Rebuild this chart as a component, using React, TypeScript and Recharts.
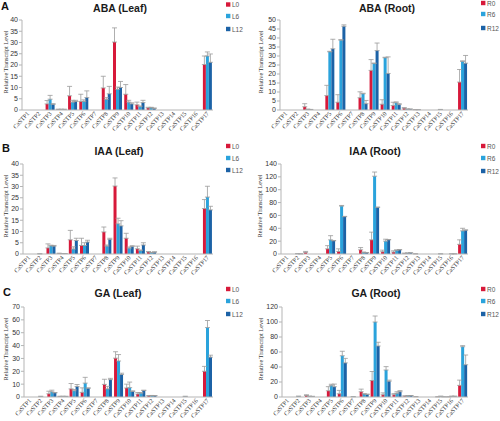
import React from 'react';
import { BarChart, Bar, XAxis, YAxis, ErrorBar } from 'recharts';

const categories = ['CaSTP1','CaSTP2','CaSTP3','CaSTP4','CaSTP5','CaSTP6','CaSTP7','CaSTP8','CaSTP9','CaSTP10','CaSTP11','CaSTP12','CaSTP13','CaSTP14','CaSTP15','CaSTP16','CaSTP17'];
const leafSeries = ['L0', 'L6', 'L12'];
const rootSeries = ['R0', 'R6', 'R12'];

// ABA (Leaf)
const abaLeafL0 = [0,0,2.7,0.3,6.3,3.8,0,9.8,30.2,7.0,2.3,0.9,0,0,0,0,20.2];
const abaLeafL6 = [0,0,4.8,0.3,3.5,3.8,0,4.7,9.2,3.5,1.5,1.0,0,0,0,0,24.0];
const abaLeafL12 = [0,0,2.5,0.3,3.8,5.5,0,7.2,10.0,2.7,3.3,0.7,0,0,0,0,21.2];
const abaLeafL0Err = [0,0,1.5,0,4.2,3.2,0,5.2,6.3,4.3,1.2,0.3,0,0,0,0,3.8];
const abaLeafL6Err = [0,0,1.7,0,0.8,0.7,0,0.8,1.0,0.8,0.3,0.2,0,0,0,0,1.8];
const abaLeafL12Err = [0,0,0.3,0,0.5,3.0,0,3.3,2.7,0.5,1.0,0.2,0,0,0,0,3.7];
const abaLeafTicks = [0,5,10,15,20,25,30,35,40];

// ABA (Root)
const abaRootR0 = [0,0,1.8,0,8.0,4.3,0,6.8,22.0,3.2,2.5,1.0,0.2,0,0,0,15.5];
const abaRootR6 = [0,0,0.4,0,32.3,38.8,0,9.0,25.8,29.0,4.0,0.5,0.2,0,0.3,0,27.0];
const abaRootR12 = [0,0,0.3,0,34.0,46.5,0,3.5,33.0,20.3,3.0,0.5,0,0,0,0,26.0];
const abaRootR0Err = [0,0,1.7,0,5.7,4.2,0,3.3,6.0,2.5,1.8,0.3,0,0,0,0,7.0];
const abaRootR6Err = [0,0,0,0,0.3,0.3,0,0.3,0.3,0.3,0.5,0,0,0,0,0,0.3];
const abaRootR12Err = [0,0,0,0,5.3,0.8,0,1.8,4.2,9.2,0.5,0,0,0,0,0,4.3];
const abaRootTicks = [0,5,10,15,20,25,30,35,40,45,50];

// IAA (Leaf)
const iaaLeafL0 = [0,0,2.7,0.3,6.3,3.8,0,9.8,30.2,7.0,2.3,0.9,0,0,0,0,20.2];
const iaaLeafL6 = [0,0.1,3.6,0.2,2.2,3.8,0,3.5,13.4,2.6,1.5,0.6,0,0,0,0,25.3];
const iaaLeafL12 = [0,0,3.5,0.2,6.0,5.3,0,6.5,12.5,3.3,4.0,0.8,0,0,0,0,19.6];
const iaaLeafL0Err = [0,0,1.8,0,4.2,3.2,0,2.2,3.6,2.2,1.2,0.2,0,0,0,0,4.0];
const iaaLeafL6Err = [0,0,0.3,0,1.0,1.2,0,0.5,2.5,0.5,0.3,0.1,0,0,0,0,4.8];
const iaaLeafL12Err = [0,0,0.3,0,1.0,0.8,0,0.5,2.3,0.4,1.0,0.2,0,0,0,0,1.6];
const iaaLeafTicks = [0,5,10,15,20,25,30,35,40];

// IAA (Root)
const iaaRootR0 = [0,0,2.5,0,8.0,4.0,0,6.5,22.0,3.5,3.0,1.0,0.3,0,0,0,15.0];
const iaaRootR6 = [0,0.5,0,0,22.0,74.5,0,2.5,121.0,20.0,6.0,1.5,0,0,0.3,0.3,36.0];
const iaaRootR12 = [0,0.3,0,0,20.5,58.0,0,2.0,72.5,22.0,6.5,1.8,0,0,0,0.3,37.0];
const iaaRootR0Err = [0,0,1.5,0,5.0,4.0,0,3.5,12.0,2.5,2.0,0.3,0,0,0,0,7.0];
const iaaRootR6Err = [0,0,0,0,6.5,1.0,0,0.5,6.5,3.0,0.3,0,0,0,0,0,4.0];
const iaaRootR12Err = [0,0,0,0,0.5,0.5,0,0.2,0.5,0.5,0.3,0,0,0,0,0,0.5];
const iaaRootTicks = [0,20,40,60,80,100,120,140];

// GA (Leaf)
const gaLeafL0 = [0,0,2.5,0.5,6.3,3.6,0,9.8,30.2,7.0,2.3,0.9,0,0,0,0,20.0];
const gaLeafL6 = [0,0.5,4.0,0.5,4.8,10.8,0,6.3,28.0,7.3,3.0,1.0,0,0,0.5,0,54.0];
const gaLeafL12 = [0,0,3.2,0.5,8.2,6.8,0,13.5,17.5,4.3,5.0,1.0,0,0,0,0,31.0];
const gaLeafL0Err = [0,0,2.0,0,4.2,3.5,0,4.0,5.0,3.0,1.2,0.2,0,0,0,0,3.8];
const gaLeafL6Err = [0,0,1.3,0,1.0,4.5,0,2.0,5.0,4.3,0.5,0.2,0,0,0,0,5.5];
const gaLeafL12Err = [0,0,0.3,0,1.5,0.3,0,1.0,1.0,0.5,0.3,0.1,0,0,0,0,1.5];
const gaLeafTicks = [0,10,20,30,40,50,60,70];

// GA (Root)
const gaRootR0 = [0,0,2.0,0,8.3,4.3,0,7.0,22.0,3.0,3.0,1.2,0.5,0,0.3,0.3,15.5];
const gaRootR6 = [0,1.0,1.0,0,15.5,55.0,0.5,4.0,100.0,36.0,5.0,1.5,0,0,1.0,1.0,67.0];
const gaRootR12 = [0,0,0.8,0,13.7,45.5,0,3.5,68.0,21.0,7.0,1.8,0,0,0.3,1.0,43.0];
const gaRootR0Err = [0,0,1.0,0,5.5,4.5,0,3.5,12.0,2.5,1.5,0.3,0,0,0,0,7.0];
const gaRootR6Err = [0,0,0,0,1.5,6.0,0,0.3,8.0,4.5,2.0,0.2,0,0,0,0,1.5];
const gaRootR12Err = [0,0,0,0,3.5,6.0,0,0.3,5.0,1.5,1.5,0.2,0,0,0,0,13.0];
const gaRootTicks = [0,20,40,60,80,100,120];

const COLORS = ['#d7193a', '#2aa3dc', '#1c62a6'];

function buildRows(vals: number[][], errs: number[][]) {
  return categories.map((c, i) => ({
    name: c,
    v0: vals[0][i], v1: vals[1][i], v2: vals[2][i],
    e0: [0, errs[0][i]], e1: [0, errs[1][i]], e2: [0, errs[2][i]],
  }));
}

const XTick = (props: any) => {
  const { x, y, payload } = props;
  return (
    <g transform={`translate(${x + 0.5},${y + 2.5}) rotate(-48)`}>
      <text x={0} y={0} dy="0.32em" textAnchor="end" fontSize={6.2} fontFamily="'Liberation Serif', serif" fill="#333">
        {payload.value}
      </text>
    </g>
  );
};

type PanelProps = {
  left: number; top: number; w: number; h: number;
  plot: { l: number; r: number; t: number; b: number };
  vals: number[][]; errs: number[][]; ticks: number[];
  title: string; titleX: number; titleY: number;
  letter?: string; letterX?: number; letterY?: number;
  series: string[]; legendX: number; legendYs: number[];
  ylabX: number;
};

function Panel(p: PanelProps) {
  const data = buildRows(p.vals, p.errs);
  const max = p.ticks[p.ticks.length - 1];
  const ylabY = (p.plot.t + p.plot.b) / 2 - 3;
  return (
    <div style={{ position: 'absolute', left: p.left, top: p.top, width: p.w, height: p.h }}>
      <BarChart
        width={p.w}
        height={p.h}
        data={data}
        margin={{ top: p.plot.t, right: p.w - p.plot.r, bottom: 0, left: 0 }}
        barCategoryGap="10%"
        barGap={0}
      >
        <XAxis
          dataKey="name"
          interval={0}
          tick={<XTick />}
          tickLine={false}
          tickSize={0}
          tickMargin={0}
          axisLine={{ stroke: '#b5b5b5' }}
          height={p.h - p.plot.b}
        />
        <YAxis
          width={p.plot.l}
          domain={[0, max]}
          ticks={p.ticks}
          interval={0}
          tickSize={3}
          tickMargin={1}
          tickLine={{ stroke: '#b5b5b5' }}
          axisLine={{ stroke: '#b5b5b5' }}
          tick={{ fontSize: 7, fill: '#333', fontFamily: "'Liberation Sans', Arial, sans-serif" }}
        />
        {[0, 1, 2].map((k) => (
          <Bar key={k} dataKey={`v${k}`} fill={COLORS[k]} isAnimationActive={false}>
            <ErrorBar dataKey={`e${k}`} width={2.5} stroke="#9a9a9a" strokeWidth={0.8} direction="y" isAnimationActive={false} />
          </Bar>
        ))}
      </BarChart>
      <svg width={p.w} height={p.h} style={{ position: 'absolute', left: 0, top: 0, pointerEvents: 'none' }}>
        <text x={p.titleX} y={p.titleY} textAnchor="middle" fontSize={10.5} fontWeight="bold" fontFamily="'Liberation Sans', Arial, sans-serif" fill="#1a1a1a">
          {p.title}
        </text>
        {p.letter ? (
          <text x={p.letterX} y={p.letterY} fontSize={11} fontWeight="bold" fontFamily="'Liberation Sans', Arial, sans-serif" fill="#111">
            {p.letter}
          </text>
        ) : null}
        <text
          x={p.ylabX}
          y={ylabY}
          transform={`rotate(-90 ${p.ylabX} ${ylabY})`}
          textAnchor="middle"
          dominantBaseline="central"
          fontSize={6.2}
          fontFamily="'Liberation Serif', serif"
          fill="#333"
        >
          Relative Transcript Level
        </text>
        {p.series.map((s, k) => (
          <g key={s}>
            <rect x={p.legendX} y={p.legendYs[k] - 2.2} width={4.4} height={4.4} fill={COLORS[k]} />
            <text x={p.legendX + 6} y={p.legendYs[k]} dominantBaseline="central" fontSize={6.5} fontFamily="'Liberation Sans', Arial, sans-serif" fill="#555">
              {s}
            </text>
          </g>
        ))}
      </svg>
    </div>
  );
}

export default function App() {
  return (
    <div style={{ position: 'absolute', left: 0, top: 0, width: 500, height: 421, background: '#fff', overflow: 'hidden' }}>
      <Panel left={0} top={0} w={250} h={140} plot={{ l: 22, r: 213, t: 20, b: 110 }}
        vals={[abaLeafL0, abaLeafL6, abaLeafL12]} errs={[abaLeafL0Err, abaLeafL6Err, abaLeafL12Err]} ticks={abaLeafTicks}
        title="ABA (Leaf)" titleX={120} titleY={12} letter="A" letterX={1} letterY={10}
        series={leafSeries} legendX={226} legendYs={[4.5, 16, 29]} ylabX={5} />
      <Panel left={250} top={0} w={250} h={140} plot={{ l: 30, r: 218, t: 20, b: 110 }}
        vals={[abaRootR0, abaRootR6, abaRootR12]} errs={[abaRootR0Err, abaRootR6Err, abaRootR12Err]} ticks={abaRootTicks}
        title="ABA (Root)" titleX={137} titleY={12}
        series={rootSeries} legendX={231} legendYs={[3, 14, 28]} ylabX={10} />
      <Panel left={0} top={140} w={250} h={140} plot={{ l: 23, r: 213, t: 24, b: 114 }}
        vals={[iaaLeafL0, iaaLeafL6, iaaLeafL12]} errs={[iaaLeafL0Err, iaaLeafL6Err, iaaLeafL12Err]} ticks={iaaLeafTicks}
        title="IAA (Leaf)" titleX={119} titleY={15} letter="B" letterX={2} letterY={12}
        series={leafSeries} legendX={226} legendYs={[6, 18, 30]} ylabX={5} />
      <Panel left={250} top={140} w={250} h={140} plot={{ l: 31, r: 218, t: 24, b: 114 }}
        vals={[iaaRootR0, iaaRootR6, iaaRootR12]} errs={[iaaRootR0Err, iaaRootR6Err, iaaRootR12Err]} ticks={iaaRootTicks}
        title="IAA (Root)" titleX={125} titleY={15}
        series={rootSeries} legendX={231} legendYs={[6, 18, 31]} ylabX={9} />
      <Panel left={0} top={280} w={250} h={141} plot={{ l: 24, r: 213, t: 27, b: 117 }}
        vals={[gaLeafL0, gaLeafL6, gaLeafL12]} errs={[gaLeafL0Err, gaLeafL6Err, gaLeafL12Err]} ticks={gaLeafTicks}
        title="GA (Leaf)" titleX={118} titleY={17} letter="C" letterX={3} letterY={16}
        series={leafSeries} legendX={226} legendYs={[9, 21, 34]} ylabX={5} />
      <Panel left={250} top={280} w={250} h={141} plot={{ l: 32, r: 218, t: 27, b: 117 }}
        vals={[gaRootR0, gaRootR6, gaRootR12]} errs={[gaRootR0Err, gaRootR6Err, gaRootR12Err]} ticks={gaRootTicks}
        title="GA (Root)" titleX={126} titleY={17}
        series={rootSeries} legendX={231} legendYs={[9, 21, 34]} ylabX={10} />
    </div>
  );
}
